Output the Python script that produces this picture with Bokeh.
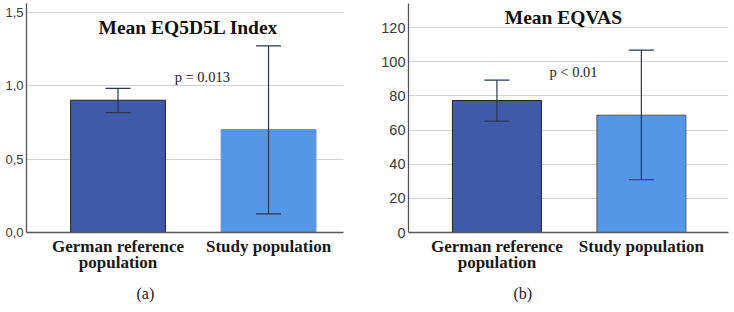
from bokeh.plotting import figure
from bokeh.layouts import row
from bokeh.models import (Range1d, FixedTicker, Label, Whisker, ColumnDataSource, TeeHead, Title)
from bokeh.embed import file_html
from bokeh.resources import INLINE

categories = ["German reference\npopulation", "Study population"]
positions = [0, 1]

eq5d_mean = [0.90, 0.70]
eq5d_lower = [0.816, 0.127]
eq5d_upper = [0.98, 1.27]
eq5d_ticks = [0.0, 0.5, 1.0, 1.5]
eq5d_tick_labels = ["0,0", "0,5", "1,0", "1,5"]

vas_mean = [77.3, 68.7]
vas_lower = [65.2, 30.9]
vas_upper = [89.2, 106.8]
vas_ticks = [0, 20, 40, 60, 80, 100, 120]
vas_tick_labels = ["0", "20", "40", "60", "80", "100", "120"]

bar_fill = ["#3F5AA8", "#5596E6"]

SERIF = "Liberation Serif"
SANS = "Liberation Sans"


def make_panel(width, height, xr, yr, border_left, border_right, border_bottom,
               bar_width, means, lows, highs, ticks, tick_labels, tick_size,
               title, ptext, title_pos, p_pos, sub, sub_offset, bar_lines):
    p = figure(width=width, height=height, x_range=xr, y_range=yr,
               output_backend="svg", toolbar_location=None,
               min_border_left=border_left, min_border_right=border_right,
               min_border_top=3, min_border_bottom=border_bottom)
    p.outline_line_color = None
    p.background_fill_color = "white"
    p.border_fill_color = "white"

    src = ColumnDataSource(dict(x=positions, top=means, lower=lows, upper=highs,
                                fill=bar_fill, line=bar_lines))
    p.vbar(x="x", top="top", width=bar_width, source=src, fill_color="fill",
           line_color="line", line_width=1)
    head = dict(size=25, line_color="#2B3A4E", line_width=1.2)
    w = Whisker(source=src, base="x", lower="lower", upper="upper",
                line_color="#2B3A4E", line_width=1.2, level="overlay",
                upper_head=TeeHead(**head), lower_head=TeeHead(**head))
    p.add_layout(w)

    # axes
    p.xaxis.ticker = FixedTicker(ticks=positions)
    p.xaxis.major_label_overrides = {pos: lab for pos, lab in zip(positions, categories)}
    p.xaxis.major_label_text_font = SERIF
    p.xaxis.major_label_text_font_style = "bold"
    p.xaxis.major_label_text_font_size = "17px"
    p.xaxis.major_label_text_color = "#1a1a1a"
    p.xaxis.major_label_text_line_height = 0.85
    p.xaxis.major_tick_line_color = None
    p.xaxis.major_tick_out = 0
    p.xaxis.major_tick_in = 0
    p.xaxis.minor_tick_line_color = None
    p.xaxis.axis_line_color = "#555555"
    p.xaxis.axis_line_width = 1.3
    p.xaxis.major_label_standoff = 4

    p.yaxis.ticker = FixedTicker(ticks=ticks)
    p.yaxis.major_label_overrides = {t: l for t, l in zip(ticks, tick_labels)}
    p.yaxis.major_label_text_font = SANS
    p.yaxis.major_label_text_font_size = tick_size
    p.yaxis.major_label_text_color = "#3a3a3a"
    p.yaxis.major_tick_line_color = None
    p.yaxis.major_tick_out = 0
    p.yaxis.major_tick_in = 0
    p.yaxis.minor_tick_line_color = None
    p.yaxis.axis_line_color = "#555555"
    p.yaxis.axis_line_width = 1.3
    p.yaxis.major_label_standoff = 3

    p.xgrid.grid_line_color = None
    p.ygrid.ticker = FixedTicker(ticks=ticks)
    p.ygrid.grid_line_color = "#D3D3D3"
    p.ygrid.grid_line_width = 1.2

    p.add_layout(Label(x=title_pos[0], y=title_pos[1], text=title,
                       text_font=SERIF, text_font_style="bold",
                       text_font_size="19.5px", text_align="center",
                       text_baseline="middle", text_color="#111111"))
    p.add_layout(Label(x=p_pos[0], y=p_pos[1], text=ptext,
                       text_font=SERIF, text_font_size="14.5px",
                       text_align="center", text_baseline="middle",
                       text_color="#222222"))
    p.add_layout(Title(text=sub, align="left", offset=sub_offset, standoff=16,
                       text_font=SERIF, text_font_size="16px",
                       text_font_style="normal", text_color="#222222"), "below")
    return p


p1 = make_panel(368, 312, Range1d(-0.608, 1.498), Range1d(0, 1.558), 26, 25, 80, 0.63,
                eq5d_mean, eq5d_lower, eq5d_upper, eq5d_ticks, eq5d_tick_labels, "13px",
                "Mean EQ5D5L Index", "p = 0.013", (0.468, 1.395), (0.56, 1.06),
                "(a)", 110, ["#222222", "#5596E6"])

p2 = make_panel(366, 312, Range1d(-0.612, 1.603), Range1d(0, 134.1), 40, 6, 79, 0.616,
                vas_mean, vas_lower, vas_upper, vas_ticks, vas_tick_labels, "14.5px",
                "Mean EQVAS", "p < 0.01", (0.46, 126), (0.53, 93.9),
                "(b)", 105, ["#222222", "#555555"])

layout = row(p1, p2)

open("out.html", "w").write(file_html(layout, INLINE))
